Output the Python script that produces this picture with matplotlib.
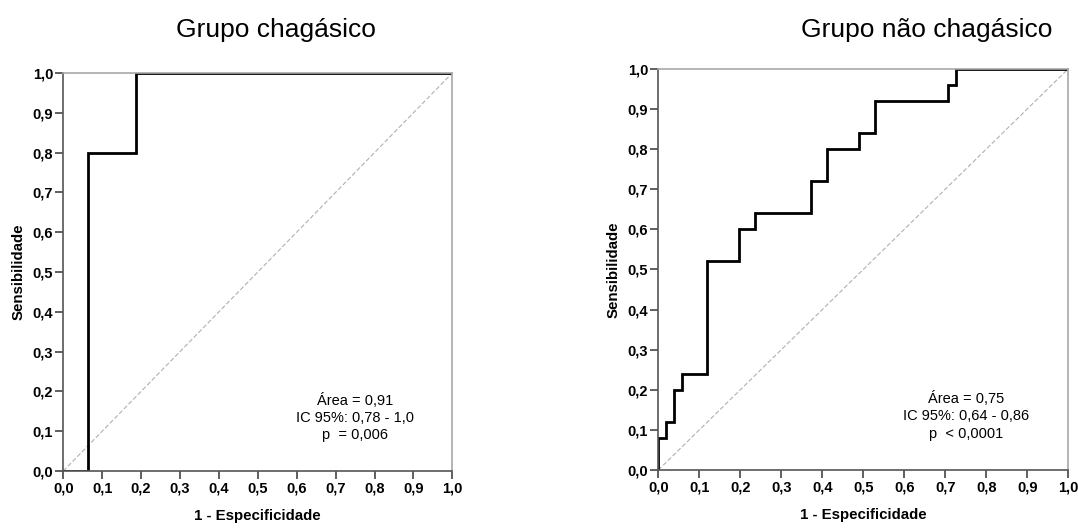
import matplotlib

matplotlib.use("Agg")
import matplotlib.pyplot as plt
import numpy as np

plt.rcParams["font.family"] = ["Liberation Sans", "DejaVu Sans"]

# ROC step curves (1 - especificidade, sensibilidade)
chag_fpr = [0.0, 0.0625, 0.0625, 0.1875, 0.1875, 1.0]
chag_tpr = [0.0, 0.0, 0.80, 0.80, 1.0, 1.0]

nchag_fpr = [0.0, 0.0, 0.0196, 0.0196, 0.0392, 0.0392, 0.0588, 0.0588, 0.1176, 0.1176,
             0.1961, 0.1961, 0.2353, 0.2353, 0.3725, 0.3725, 0.4118, 0.4118, 0.4902, 0.4902,
             0.5294, 0.5294, 0.7059, 0.7059, 0.7255, 0.7255, 1.0]
nchag_tpr = [0.0, 0.08, 0.08, 0.12, 0.12, 0.20, 0.20, 0.24, 0.24, 0.52,
             0.52, 0.60, 0.60, 0.64, 0.64, 0.72, 0.72, 0.80, 0.80, 0.84,
             0.84, 0.92, 0.92, 0.96, 0.96, 1.0, 1.0]

titles = ["Grupo chagásico", "Grupo não chagásico"]
stats = [["Área = 0,91", "IC 95%: 0,78 - 1,0", "p  = 0,006"],
         ["Área = 0,75", "IC 95%: 0,64 - 0,86", "p  < 0,0001"]]

ticks = np.round(np.arange(0, 1.01, 0.1), 1)
tick_labels = [f"{t:.1f}".replace(".", ",") for t in ticks]

fig = plt.figure(figsize=(10.78, 5.30), dpi=100)
ax_pos = [[0.0587, 0.1113, 0.3609, 0.751], [0.6107, 0.1132, 0.3803, 0.757]]
curves = [(chag_fpr, chag_tpr), (nchag_fpr, nchag_tpr)]
title_x = [276, 927]

for i in range(2):
    ax = fig.add_axes(ax_pos[i])
    ax.plot([0, 1], [0, 1], color="#b0b0b0", lw=0.8, ls=(0, (4, 2)))
    ax.plot(curves[i][0], curves[i][1], color="black", lw=2.0, solid_joinstyle="miter")
    ax.set_xlim(0, 1)
    ax.set_ylim(0, 1)
    ax.set_xticks(ticks)
    ax.set_yticks(ticks)
    ax.set_xticklabels(tick_labels, fontweight="bold", fontsize=10.5)
    ax.set_yticklabels(tick_labels, fontweight="bold", fontsize=10.5)
    ax.tick_params(direction="out", length=5.8, width=1.2, color="#444444", pad=1.5)
    for side in ["left", "bottom"]:
        ax.spines[side].set_color("#555555")
        ax.spines[side].set_linewidth(1.2)
    for side in ["top", "right"]:
        ax.spines[side].set_color("#a8a8a8")
        ax.spines[side].set_linewidth(1.2)
    ax.set_xlabel("1 - Especificidade", fontweight="bold", fontsize=10.8, labelpad=10)
    ax.set_ylabel("Sensibilidade", fontweight="bold", fontsize=10.8, labelpad=5)
    for k, line in enumerate(stats[i]):
        ax.text(0.75, 0.178 - k * 0.044, line, ha="center", va="center", fontsize=10.5)
    fig.text(title_x[i] / 1078, 1 - 30 / 530, titles[i], ha="center", va="center", fontsize=19)

fig.savefig("out.png", dpi=100)
